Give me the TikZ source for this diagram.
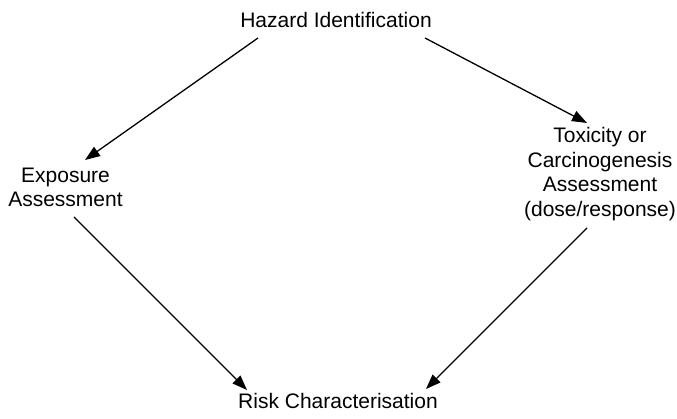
\documentclass[tikz,border=0pt]{standalone}
\usepackage{fontspec}
\setmainfont{Liberation Sans}
\usetikzlibrary{arrows.meta}
\begin{document}
\begin{tikzpicture}[x=1pt,y=-1pt,
  lbl/.style={inner sep=0pt, align=center, font=\fontsize{21}{24.5}\selectfont},
  conn/.style={line width=1.3pt, -{Triangle[length=15pt,width=11pt]}}]
\useasboundingbox (0,0) rectangle (677,419);
\node[lbl, anchor=north] (haz) at (336,12) {Hazard Identification};
\node[lbl, anchor=north] (exp) at (65.5,167.5) {Exposure\\Assessment};
\node[lbl, anchor=north] (tox) at (600,127.5) {Toxicity or\\Carcinogenesis\\Assessment\\(dose/response)};
\node[lbl, anchor=north] (risk) at (338,393) {Risk Characterisation};
\coordinate (h1) at (258,38);
\coordinate (h2) at (425,38);
\coordinate (e1) at (85,160);
\coordinate (e2) at (74,217);
\coordinate (t1) at (587,123);
\coordinate (t2) at (587,228);
\coordinate (r1) at (247,390);
\coordinate (r2) at (426,389);
\draw[conn] (h1) -- (e1);
\draw[conn] (h2) -- (t1);
\draw[conn] (e2) -- (r1);
\draw[conn] (t2) -- (r2);
\end{tikzpicture}
\end{document}
